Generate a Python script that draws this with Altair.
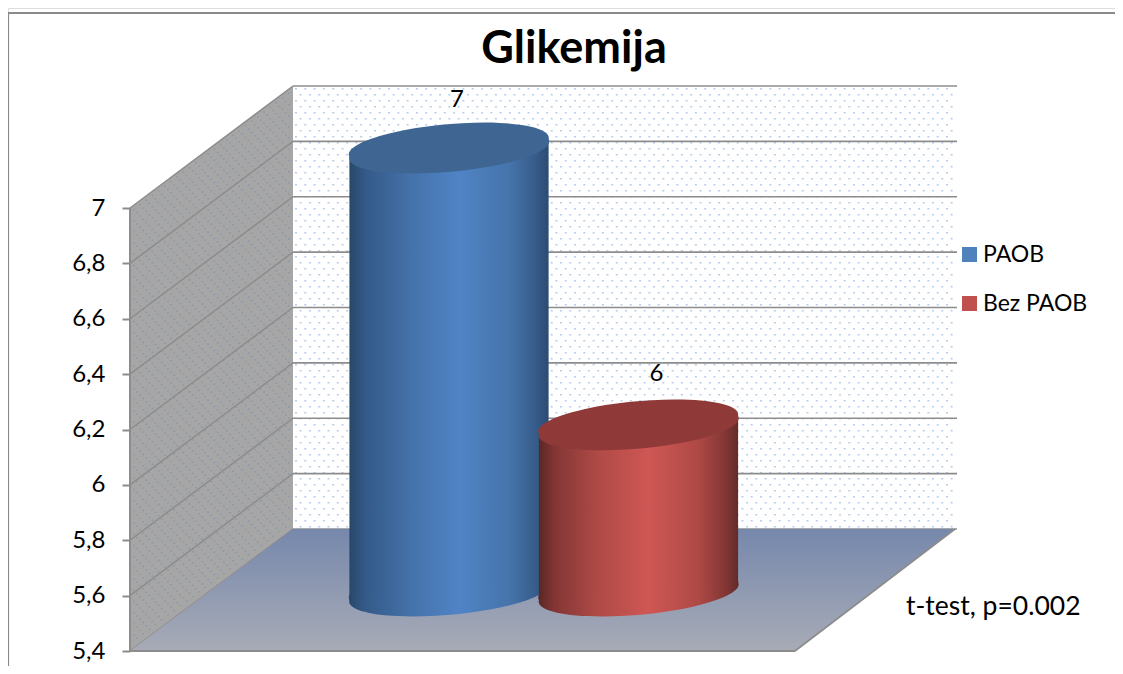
import altair as alt

# ---- values
series = ["PAOB", "Bez PAOB"]
values = [7, 6]
legend_colors = ["#4f81bd", "#c0504d"]
ticks = [5.4, 5.6, 5.8, 6, 6.2, 6.4, 6.6, 6.8, 7]
title_text = "Glikemija"
note_text = "t-test, p=0.002"

# ---- scene set-up (chart pixels = page pixels - 8)
W, H = 1107, 658
PX_PER_UNIT = 443 / 1.6
BASE = 5.4
DEPTH = 122 / PX_PER_UNIT       # back wall lift, in axis units
MID_DEPTH = 60 / PX_PER_UNIT    # cylinders stand half way back
TILT = 8.9 / PX_PER_UNIT        # cap tilt, left tip low, right tip high
FONT = "Lato"
GRID = "#8c8c8c"
TOP_V = max(ticks)
CENTERS = {"PAOB": 441, "Bez PAOB": 630.5}

y_scale = alt.Scale(domain=[BASE - 15 / PX_PER_UNIT, BASE + 643 / PX_PER_UNIT], range=[H, 0], nice=False, zero=False)
x_id = alt.Scale(domain=[0, W], range=[0, W], nice=False, zero=False)
x_cat = alt.Scale(type="point", domain=series, range=[CENTERS[s] for s in series], padding=0)

# value axis, placed on the corner of the side wall; every layer on this scale shares it
y_axis = alt.Axis(
    values=ticks, title=None, domain=False, grid=False, offset=-122, zindex=1,
    tickColor=GRID, tickSize=8, tickWidth=2, labelPadding=17,
    labelFont=FONT, labelFontSize=24, labelColor="#000000",
    labelExpr="replace(format(datum.value,'~g'),'.',',')")


def Y(field):
    return alt.Y(field, type="quantitative", scale=y_scale, axis=y_axis)


def grad(stops, **kw):
    return alt.LinearGradient(
        gradient="linear",
        stops=[alt.GradientStop(offset=o, color=c) for o, c in stops],
        x1=kw.get("x1", 0), x2=kw.get("x2", 1), y1=kw.get("y1", 0), y2=kw.get("y2", 0),
    )


blue = grad([(0, "#274869"), (0.08, "#345a88"), (0.3, "#4471a9"), (0.55, "#5084c6"), (0.8, "#4674ab"), (0.93, "#375d8c"), (1, "#2b4b72")])
red = grad([(0, "#5a2725"), (0.08, "#833634"), (0.3, "#b04a47"), (0.55, "#cf5754"), (0.8, "#ae4946"), (0.93, "#843735"), (1, "#632b29")])
floor_grad = grad([(0, "#7688ac"), (1, "#a8abb6")], x1=0, x2=0, y1=0, y2=1)

# elliptical cap: 100 px half width, drawn by a custom symbol (size 40000 -> 1 unit = 100 px)
ELLIPSE = "M-0.996,0.089A1.004,0.218,-5.1,1,1,0.996,-0.089A1.004,0.218,-5.1,1,1,-0.996,0.089Z"


def dots_back():
    out = []
    y0 = 80.0
    row = 0
    while y0 < 519:
        x0 = 287.0 + (4.6 if row % 2 else 0)
        while x0 < 947:
            out.append(f"M{x0:.1f},{y0:.1f}h2v1.6h-2z")
            x0 += 9.3
        y0 += 6.0
        row += 1
    return "".join(out)


def dots_side():
    out = []
    slope = 122 / 163
    for r in range(0, 80):
        off = 3 + r * 5.6
        for c in range(0, 26):
            x0 = 122 + 3 + c * 6.2 + (3.1 if r % 2 else 0)
            if x0 > 283:
                continue
            y_top = 200 - (x0 - 122) * slope
            y0 = y_top + off
            if y0 < y_top + 2 or y0 > y_top + 439:
                continue
            out.append(f"M{x0:.1f},{y0:.1f}h1.6v1.4h-1.6z")
    return "".join(out)


one = alt.Data(values=[{"a": 0}])

frame_top = alt.Chart(one).mark_rule(color="#8a8a8a", strokeWidth=2).encode(
    x=alt.value(0), x2=alt.value(W), y=alt.value(5))
frame_left = alt.Chart(one).mark_rule(color="#8a8a8a", strokeWidth=1.6).encode(
    x=alt.value(0.3), y=alt.value(5), y2=alt.value(H))

# back wall
back_wall = alt.Chart(alt.Data(values=[{"t": TOP_V + DEPTH, "b": BASE + DEPTH}])).mark_rect(color="#ffffff").encode(
    x=alt.value(285), x2=alt.value(949), y=Y("t"), y2="b:Q")
back_dots = alt.Chart(one).mark_point(shape=dots_back(), size=4, filled=True, color="#a5c1e6", opacity=0.8, strokeWidth=0).encode(
    x=alt.value(0), y=alt.value(0))

tick_rows = [{"v": v, "w": v + DEPTH} for v in ticks]
back_lines = alt.Chart(alt.Data(values=tick_rows)).mark_rule(color=GRID, strokeWidth=1.6).encode(
    x=alt.value(285), x2=alt.value(949), y=Y("w"))

# side wall
side_wall = alt.Chart(alt.Data(values=[
    {"x": 122, "t": TOP_V, "b": BASE},
    {"x": 285, "t": TOP_V + DEPTH, "b": BASE + DEPTH},
])).mark_area(color="#a6a6a6", line=False).encode(
    x=alt.X("x:Q", scale=x_id, axis=None), y=Y("t"), y2="b:Q")
side_dots = alt.Chart(one).mark_point(shape=dots_side(), size=4, filled=True, color="#8593a8", opacity=0.8, strokeWidth=0).encode(
    x=alt.value(0), y=alt.value(0))
side_lines = alt.Chart(alt.Data(values=tick_rows)).mark_rule(color=GRID, strokeWidth=1.5).encode(
    x=alt.value(122), x2=alt.value(285), y=Y("v"), y2="w:Q")
side_edge = alt.Chart(alt.Data(values=[{"t": TOP_V, "b": BASE}])).mark_rule(color=GRID, strokeWidth=2).encode(
    x=alt.value(122), y=Y("t"), y2="b:Q")

# floor
floor = alt.Chart(alt.Data(values=[
    {"y": BASE, "l": 122, "r": 787},
    {"y": BASE + DEPTH, "l": 285, "r": 947},
])).mark_area(orient="horizontal", color=floor_grad, line=False).encode(
    y=Y("y"),
    x=alt.X("l:Q", scale=x_id, axis=None), x2="r:Q")
floor_front = alt.Chart(alt.Data(values=[{"v": BASE}])).mark_rule(color=GRID, strokeWidth=2).encode(
    x=alt.value(122), x2=alt.value(787), y=Y("v"))
floor_right = alt.Chart(alt.Data(values=[{"v": BASE, "w": BASE + DEPTH}])).mark_rule(color=GRID, strokeWidth=1.6).encode(
    x=alt.value(787), x2=alt.value(947), y=Y("v"), y2="w:Q")

# cylinders
rows = [{"s": s, "v": v} for s, v in zip(series, values)]


def cylinder(name, fill, top_fill):
    v = values[series.index(name)]
    cx = CENTERS[name]
    side = alt.Chart(alt.Data(values=[
        {"x": cx - 99.6, "t": v + MID_DEPTH - TILT, "b": BASE + MID_DEPTH - TILT},
        {"x": cx + 99.6, "t": v + MID_DEPTH + TILT, "b": BASE + MID_DEPTH + TILT},
    ])).mark_area(color=fill, line=False).encode(
        x=alt.X("x:Q", scale=x_id, axis=None), y=Y("t"), y2="b:Q")
    src = alt.Chart(alt.Data(values=rows)).transform_filter(alt.datum.s == name).transform_calculate(
        top=f"datum.v + {MID_DEPTH}", base=f"{BASE + MID_DEPTH}")
    x = alt.X("s:N", scale=x_cat, axis=None)
    foot = src.mark_point(shape=ELLIPSE, size=40000, filled=True, color=fill, opacity=1, strokeWidth=0).encode(x=x, y=Y("base"))
    cap = src.mark_point(shape=ELLIPSE, size=40000, filled=True, color=top_fill, opacity=1, strokeWidth=0).encode(x=x, y=Y("top"))
    return [foot, side, cap]


def value_label(name, dx, dy):
    return alt.Chart(alt.Data(values=rows)).transform_filter(alt.datum.s == name).transform_calculate(
        top=f"datum.v + {MID_DEPTH}").mark_text(
        font=FONT, fontSize=24, color="#000000", dx=dx, dy=dy).encode(
        x=alt.X("s:N", scale=x_cat, axis=None), y=Y("top"), text="v:Q")


note = alt.Chart(one).mark_text(text=note_text, font=FONT, fontSize=26.5, color="#000000", align="left", baseline="middle").encode(
    x=alt.value(898), y=alt.value(599))

legend_layer = alt.Chart(alt.Data(values=rows)).mark_point(filled=True, size=0, opacity=1).encode(
    x=alt.value(950), y=alt.value(240),
    color=alt.Color("s:N", scale=alt.Scale(domain=series, range=legend_colors), legend=alt.Legend(
        title=None, orient="none", legendX=950, legendY=235, symbolType="square", symbolSize=225,
        symbolStrokeWidth=0, labelFont=FONT, labelFontSize=23, labelColor="#000000", labelOffset=2,
        rowPadding=25, padding=0)))

layers = [
    frame_top, frame_left, back_wall, back_dots, back_lines,
    side_wall, side_dots, side_lines, side_edge, floor, floor_front, floor_right,
]
layers += cylinder("PAOB", blue, "#3f6693")
layers += cylinder("Bez PAOB", red, "#8f3a38")
layers += [value_label("PAOB", 8, -48), value_label("Bez PAOB", 18, -51), note, legend_layer]

chart = alt.layer(*layers).resolve_scale(x="independent", color="independent").properties(
    width=W, height=H, padding=0, autosize=alt.AutoSizeParams(type="none"),
    title=alt.TitleParams(title_text, font=FONT, fontSize=45, fontWeight="bold", color="#000000",
                          anchor="middle", dx=12.5, dy=64, offset=0),
).configure_view(stroke=None).configure(background="#ffffff")

chart.save("out.html", embed_options={"renderer": "svg", "actions": False})
